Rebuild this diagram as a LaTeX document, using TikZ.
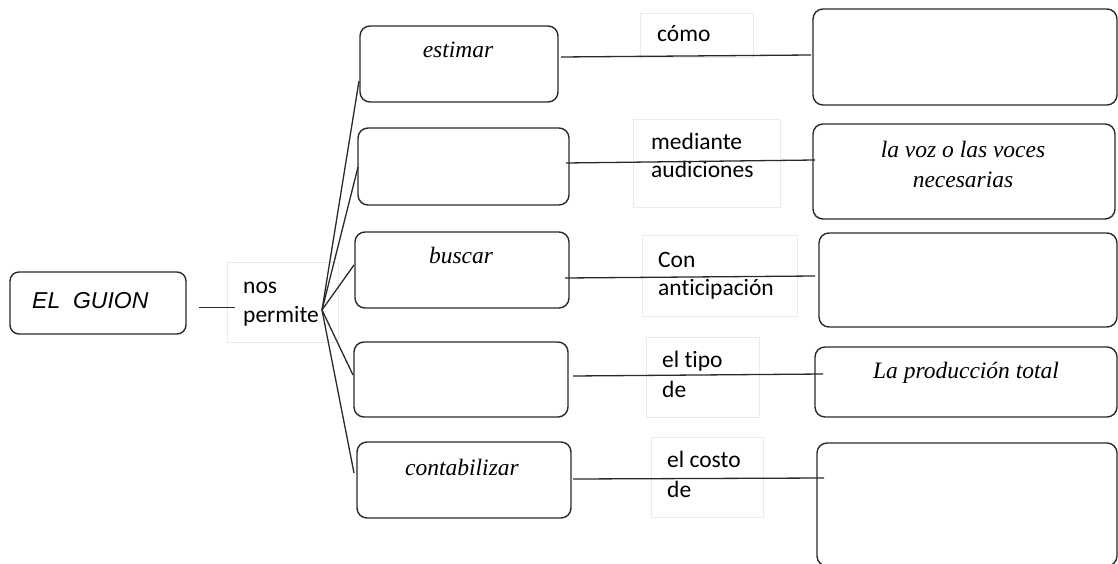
\documentclass[tikz,border=0pt]{standalone}
\usepackage{fontspec}
\setmainfont{Liberation Serif}
\newfontfamily\calfont[RawFeature=-liga]{Carlito}
\newfontfamily\handfont{Liberation Sans}
\definecolor{linegray}{HTML}{2A2A2A}
\definecolor{framegray}{HTML}{EBEBEB}
\begin{document}
\begin{tikzpicture}[x=1pt,y=-1pt,
  rbox/.style={draw=linegray, line width=1.4pt, rounded corners=10pt, inner sep=0pt, fill=none},
  frame/.style={draw=framegray, line width=0.6pt},
  conn/.style={draw=linegray, line width=1.3pt},
  lbl/.style={font=\calfont\fontsize{23.5}{29}\selectfont, inner sep=0pt, anchor=base west},
  itx/.style={font=\itshape\fontsize{23.5}{29}\selectfont, inner sep=0pt, anchor=base},
]
\useasboundingbox (0,0) rectangle (1118,564);
\fill[white] (0,0) rectangle (1118,564);
\clip (0,0) rectangle (1118,564);

% faint text frames
\draw[frame] (227,262) rectangle (338,342);
\draw[frame] (640,13) rectangle (753,57);
\draw[frame] (633,119) rectangle (780,207);
\draw[frame] (642,235) rectangle (797,316);
\draw[frame] (646,337) rectangle (759,417);
\draw[frame] (651,437) rectangle (763,517);

% main box
\node[rbox, rounded corners=9pt, minimum width=176pt, minimum height=62pt] (g) at (98,303) {};
\node[font=\handfont\itshape\fontsize{23}{28}\selectfont, inner sep=0pt, anchor=base west] (gt) at (32,308) {EL\ \ GUION};

% middle boxes
\node[rbox, minimum width=198pt, minimum height=76pt] (m1) at (459,64) {};
\node[rbox, minimum width=211pt, minimum height=77pt] (m2) at (463.5,166.5) {};
\node[rbox, minimum width=214pt, minimum height=76pt] (m3) at (462,270) {};
\node[rbox, minimum width=214pt, minimum height=75pt] (m4) at (461,379.5) {};
\node[rbox, minimum width=214pt, minimum height=76pt] (m5) at (464,480) {};

% right boxes
\node[rbox, minimum width=304pt, minimum height=96pt] (r1) at (965,57) {};
\node[rbox, minimum width=302pt, minimum height=95pt] (r2) at (964,171.5) {};
\node[rbox, minimum width=298pt, minimum height=94pt] (r3) at (968,280) {};
\node[rbox, minimum width=302pt, minimum height=70pt] (r4) at (966,382) {};
\node[rbox, minimum width=300pt, minimum height=123pt] (r5) at (967,504.5) {};

% texts
\node[lbl] (t0a) at (243,293) {nos};
\node[lbl] (t0b) at (243,322) {permite};
\node[itx] (tm1) at (458,58) {estimar};
\node[itx] (tm3) at (461,263) {buscar};
\node[itx] (tm5) at (462,475) {contabilizar};
\node[lbl] (t1a) at (657,42) {cómo};
\node[lbl] (t2a) at (651,150) {mediante};
\node[lbl] (t2b) at (651,178) {audiciones};
\node[lbl] (t3a) at (658,267) {Con};
\node[lbl] (t3b) at (658,295) {anticipación};
\node[lbl] (t4a) at (662,367) {el tipo};
\node[lbl] (t4b) at (662,397) {de};
\node[lbl] (t5a) at (667,467) {el costo};
\node[lbl] (t5b) at (667,497) {de};
\node[itx] (tr2a) at (963,158) {la voz o las voces};
\node[itx] (tr2b) at (963,187) {necesarias};
\node[itx] (tr4) at (966,378) {La producción total};

% connectors
\coordinate (gA) at (199,307);
\coordinate (gB) at (235,307);
\draw[conn, line width=1pt] (gA) -- (gB);

\coordinate (fan) at (322,310);
\coordinate (f1) at (359,81);
\coordinate (f2) at (358,167);
\coordinate (f3) at (354,265);
\coordinate (f4) at (353,375);
\coordinate (f5) at (354,473);
\draw[conn] (fan) -- (f1);
\draw[conn] (fan) -- (f2);
\draw[conn] (fan) -- (f3);
\draw[conn] (fan) -- (f4);
\draw[conn] (fan) -- (f5);

\coordinate (a1) at (561,57);  \coordinate (b1) at (811,55);
\coordinate (a2) at (566,163); \coordinate (b2) at (815,160);
\coordinate (a3) at (565,278); \coordinate (b3) at (815,276);
\coordinate (a4) at (573,376); \coordinate (b4) at (823,374);
\coordinate (a5) at (573,479); \coordinate (b5) at (824,478);
\draw[conn] (a1) -- (b1);
\draw[conn] (a2) -- (b2);
\draw[conn] (a3) -- (b3);
\draw[conn] (a4) -- (b4);
\draw[conn] (a5) -- (b5);
\end{tikzpicture}
\end{document}
